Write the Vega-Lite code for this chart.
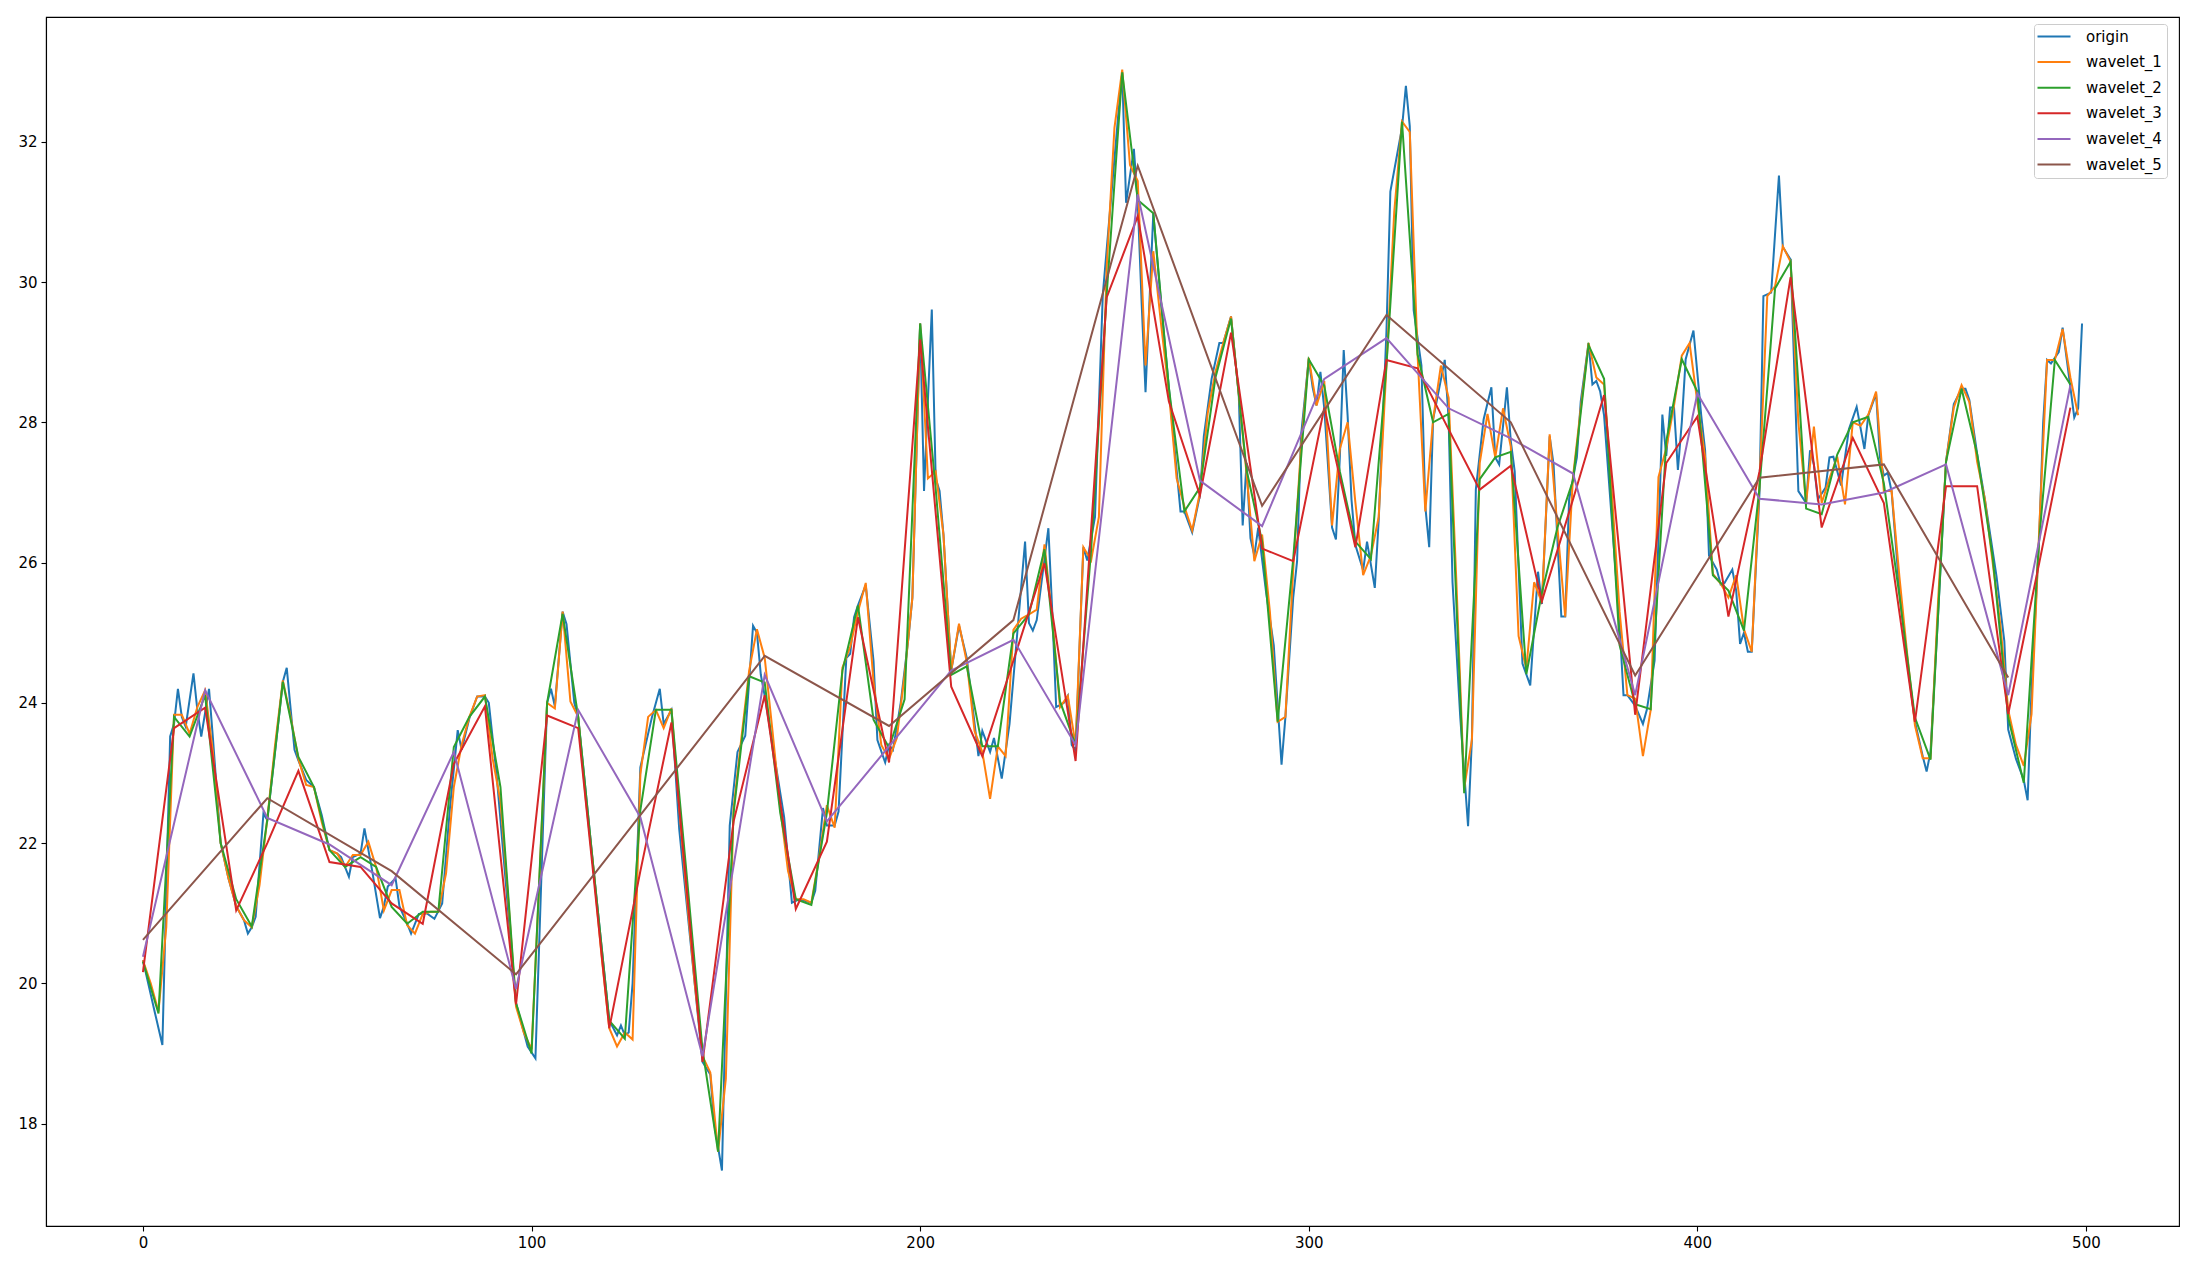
{
"$schema": "https://vega.github.io/schema/vega-lite/v6.json",
"width": 2133, "height": 1209,
"autosize": {"type": "none"},
"padding": {"left": 46, "top": 17, "right": 23, "bottom": 42},
"background": "white",
"config": {"view": {"stroke": "black", "strokeWidth": 1.1}, "font": "DejaVu Sans",
 "axis": {"domainColor": "black", "domainWidth": 1.1, "tickColor": "black", "tickWidth": 1.1, "labelColor": "black", "grid": false, "labelFontSize": 15, "tickSize": 5, "labelFont": "DejaVu Sans"}},
"data": {"values": [
{"s":"origin","x":0,"y":20.33},{"s":"origin","x":3,"y":19.6},{"s":"origin","x":5,"y":19.12},{"s":"origin","x":7,"y":23.52},{"s":"origin","x":8,"y":23.7},{"s":"origin","x":9,"y":24.2},{"s":"origin","x":10,"y":23.8},{"s":"origin","x":11,"y":23.66},{"s":"origin","x":13,"y":24.42},{"s":"origin","x":14,"y":23.9},{"s":"origin","x":15,"y":23.52},{"s":"origin","x":17,"y":24.2},{"s":"origin","x":18,"y":23.5},{"s":"origin","x":20,"y":22.0},{"s":"origin","x":22,"y":21.5},{"s":"origin","x":24,"y":21.1},{"s":"origin","x":26,"y":20.9},{"s":"origin","x":27,"y":20.71},{"s":"origin","x":28,"y":20.8},{"s":"origin","x":29,"y":20.95},{"s":"origin","x":31,"y":22.42},{"s":"origin","x":32,"y":22.33},{"s":"origin","x":34,"y":23.3},{"s":"origin","x":36,"y":24.3},{"s":"origin","x":37,"y":24.5},{"s":"origin","x":39,"y":23.33},{"s":"origin","x":40,"y":23.18},{"s":"origin","x":42,"y":22.9},{"s":"origin","x":44,"y":22.8},{"s":"origin","x":46,"y":22.4},{"s":"origin","x":48,"y":21.9},{"s":"origin","x":50,"y":21.85},{"s":"origin","x":51,"y":21.8},{"s":"origin","x":53,"y":21.52},{"s":"origin","x":54,"y":21.8},{"s":"origin","x":56,"y":21.85},{"s":"origin","x":57,"y":22.21},{"s":"origin","x":59,"y":21.6},{"s":"origin","x":61,"y":20.93},{"s":"origin","x":62,"y":21.1},{"s":"origin","x":63,"y":21.38},{"s":"origin","x":65,"y":21.5},{"s":"origin","x":66,"y":21.1},{"s":"origin","x":68,"y":20.85},{"s":"origin","x":69,"y":20.71},{"s":"origin","x":71,"y":20.99},{"s":"origin","x":73,"y":21.0},{"s":"origin","x":75,"y":20.92},{"s":"origin","x":77,"y":21.14},{"s":"origin","x":79,"y":22.5},{"s":"origin","x":81,"y":23.61},{"s":"origin","x":82,"y":23.33},{"s":"origin","x":84,"y":23.78},{"s":"origin","x":86,"y":24.09},{"s":"origin","x":88,"y":24.09},{"s":"origin","x":89,"y":24.0},{"s":"origin","x":91,"y":22.98},{"s":"origin","x":96,"y":19.72},{"s":"origin","x":99,"y":19.1},{"s":"origin","x":101,"y":18.93},{"s":"origin","x":104,"y":24.0},{"s":"origin","x":105,"y":24.2},{"s":"origin","x":106,"y":23.95},{"s":"origin","x":108,"y":25.3},{"s":"origin","x":109,"y":25.12},{"s":"origin","x":111,"y":24.0},{"s":"origin","x":112,"y":23.8},{"s":"origin","x":116,"y":21.6},{"s":"origin","x":120,"y":19.47},{"s":"origin","x":122,"y":19.26},{"s":"origin","x":123,"y":19.4},{"s":"origin","x":124,"y":19.26},{"s":"origin","x":125,"y":19.3},{"s":"origin","x":126,"y":20.0},{"s":"origin","x":128,"y":23.08},{"s":"origin","x":131,"y":23.8},{"s":"origin","x":133,"y":24.2},{"s":"origin","x":134,"y":23.7},{"s":"origin","x":136,"y":23.9},{"s":"origin","x":138,"y":22.2},{"s":"origin","x":144,"y":18.88},{"s":"origin","x":146,"y":18.7},{"s":"origin","x":147,"y":18.0},{"s":"origin","x":149,"y":17.33},{"s":"origin","x":151,"y":22.25},{"s":"origin","x":153,"y":23.3},{"s":"origin","x":155,"y":23.53},{"s":"origin","x":157,"y":25.1},{"s":"origin","x":158,"y":25.0},{"s":"origin","x":159,"y":24.4},{"s":"origin","x":160,"y":24.1},{"s":"origin","x":165,"y":22.37},{"s":"origin","x":167,"y":21.15},{"s":"origin","x":169,"y":21.2},{"s":"origin","x":172,"y":21.15},{"s":"origin","x":173,"y":21.32},{"s":"origin","x":175,"y":22.5},{"s":"origin","x":176,"y":22.25},{"s":"origin","x":178,"y":22.25},{"s":"origin","x":179,"y":22.45},{"s":"origin","x":181,"y":24.64},{"s":"origin","x":182,"y":24.7},{"s":"origin","x":183,"y":25.22},{"s":"origin","x":184,"y":25.39},{"s":"origin","x":186,"y":25.68},{"s":"origin","x":188,"y":24.6},{"s":"origin","x":189,"y":23.47},{"s":"origin","x":191,"y":23.15},{"s":"origin","x":192,"y":23.4},{"s":"origin","x":193,"y":23.33},{"s":"origin","x":195,"y":24.0},{"s":"origin","x":197,"y":24.93},{"s":"origin","x":198,"y":25.5},{"s":"origin","x":200,"y":29.41},{"s":"origin","x":201,"y":27.02},{"s":"origin","x":203,"y":29.61},{"s":"origin","x":204,"y":27.2},{"s":"origin","x":205,"y":27.02},{"s":"origin","x":206,"y":26.4},{"s":"origin","x":208,"y":24.46},{"s":"origin","x":210,"y":25.1},{"s":"origin","x":212,"y":24.64},{"s":"origin","x":215,"y":23.24},{"s":"origin","x":216,"y":23.6},{"s":"origin","x":218,"y":23.3},{"s":"origin","x":219,"y":23.5},{"s":"origin","x":221,"y":22.92},{"s":"origin","x":223,"y":23.7},{"s":"origin","x":225,"y":25.0},{"s":"origin","x":227,"y":26.3},{"s":"origin","x":228,"y":25.14},{"s":"origin","x":229,"y":25.03},{"s":"origin","x":230,"y":25.18},{"s":"origin","x":233,"y":26.49},{"s":"origin","x":234,"y":25.3},{"s":"origin","x":235,"y":23.94},{"s":"origin","x":237,"y":24.0},{"s":"origin","x":238,"y":24.1},{"s":"origin","x":239,"y":23.4},{"s":"origin","x":240,"y":23.32},{"s":"origin","x":242,"y":26.22},{"s":"origin","x":243,"y":26.03},{"s":"origin","x":245,"y":26.65},{"s":"origin","x":247,"y":29.82},{"s":"origin","x":251,"y":32.4},{"s":"origin","x":252,"y":32.99},{"s":"origin","x":253,"y":31.13},{"s":"origin","x":255,"y":31.9},{"s":"origin","x":256,"y":31.13},{"s":"origin","x":257,"y":29.7},{"s":"origin","x":258,"y":28.43},{"s":"origin","x":260,"y":30.98},{"s":"origin","x":262,"y":29.7},{"s":"origin","x":264,"y":28.5},{"s":"origin","x":267,"y":26.73},{"s":"origin","x":268,"y":26.73},{"s":"origin","x":270,"y":26.43},{"s":"origin","x":272,"y":26.96},{"s":"origin","x":273,"y":27.8},{"s":"origin","x":275,"y":28.62},{"s":"origin","x":277,"y":29.13},{"s":"origin","x":278,"y":29.13},{"s":"origin","x":280,"y":29.51},{"s":"origin","x":282,"y":28.39},{"s":"origin","x":283,"y":26.53},{"s":"origin","x":284,"y":27.42},{"s":"origin","x":285,"y":26.35},{"s":"origin","x":286,"y":26.1},{"s":"origin","x":287,"y":26.5},{"s":"origin","x":289,"y":25.59},{"s":"origin","x":291,"y":24.82},{"s":"origin","x":293,"y":23.12},{"s":"origin","x":294,"y":23.8},{"s":"origin","x":296,"y":25.5},{"s":"origin","x":297,"y":26.02},{"s":"origin","x":298,"y":27.8},{"s":"origin","x":300,"y":28.9},{"s":"origin","x":301,"y":28.5},{"s":"origin","x":302,"y":28.24},{"s":"origin","x":303,"y":28.72},{"s":"origin","x":304,"y":28.2},{"s":"origin","x":306,"y":26.5},{"s":"origin","x":307,"y":26.33},{"s":"origin","x":308,"y":27.5},{"s":"origin","x":309,"y":29.03},{"s":"origin","x":310,"y":28.1},{"s":"origin","x":311,"y":26.9},{"s":"origin","x":312,"y":26.25},{"s":"origin","x":314,"y":25.89},{"s":"origin","x":315,"y":26.3},{"s":"origin","x":317,"y":25.64},{"s":"origin","x":318,"y":26.6},{"s":"origin","x":320,"y":29.3},{"s":"origin","x":321,"y":31.29},{"s":"origin","x":324,"y":32.2},{"s":"origin","x":325,"y":32.8},{"s":"origin","x":326,"y":32.22},{"s":"origin","x":327,"y":29.6},{"s":"origin","x":329,"y":28.81},{"s":"origin","x":330,"y":26.8},{"s":"origin","x":331,"y":26.22},{"s":"origin","x":332,"y":28.04},{"s":"origin","x":335,"y":28.89},{"s":"origin","x":336,"y":28.04},{"s":"origin","x":337,"y":25.72},{"s":"origin","x":339,"y":23.79},{"s":"origin","x":341,"y":22.24},{"s":"origin","x":342,"y":23.5},{"s":"origin","x":343,"y":27.04},{"s":"origin","x":345,"y":28.04},{"s":"origin","x":347,"y":28.5},{"s":"origin","x":348,"y":27.5},{"s":"origin","x":349,"y":27.4},{"s":"origin","x":351,"y":28.5},{"s":"origin","x":352,"y":27.73},{"s":"origin","x":353,"y":27.3},{"s":"origin","x":355,"y":24.56},{"s":"origin","x":357,"y":24.25},{"s":"origin","x":359,"y":25.87},{"s":"origin","x":360,"y":25.41},{"s":"origin","x":362,"y":27.8},{"s":"origin","x":363,"y":27.4},{"s":"origin","x":365,"y":25.23},{"s":"origin","x":366,"y":25.23},{"s":"origin","x":367,"y":26.9},{"s":"origin","x":369,"y":27.5},{"s":"origin","x":370,"y":28.3},{"s":"origin","x":372,"y":29.13},{"s":"origin","x":373,"y":28.54},{"s":"origin","x":374,"y":28.59},{"s":"origin","x":375,"y":28.44},{"s":"origin","x":376,"y":28.1},{"s":"origin","x":378,"y":26.6},{"s":"origin","x":380,"y":25.1},{"s":"origin","x":381,"y":24.11},{"s":"origin","x":382,"y":24.11},{"s":"origin","x":384,"y":23.96},{"s":"origin","x":386,"y":23.7},{"s":"origin","x":387,"y":23.9},{"s":"origin","x":389,"y":24.6},{"s":"origin","x":391,"y":28.11},{"s":"origin","x":392,"y":27.52},{"s":"origin","x":393,"y":28.21},{"s":"origin","x":394,"y":28.21},{"s":"origin","x":395,"y":27.32},{"s":"origin","x":396,"y":28.0},{"s":"origin","x":397,"y":28.9},{"s":"origin","x":399,"y":29.31},{"s":"origin","x":401,"y":28.1},{"s":"origin","x":402,"y":27.6},{"s":"origin","x":403,"y":26.1},{"s":"origin","x":405,"y":25.9},{"s":"origin","x":406,"y":25.69},{"s":"origin","x":407,"y":25.71},{"s":"origin","x":409,"y":25.9},{"s":"origin","x":410,"y":25.6},{"s":"origin","x":411,"y":24.84},{"s":"origin","x":412,"y":25.0},{"s":"origin","x":413,"y":24.73},{"s":"origin","x":414,"y":24.73},{"s":"origin","x":416,"y":27.0},{"s":"origin","x":417,"y":29.8},{"s":"origin","x":419,"y":29.85},{"s":"origin","x":421,"y":31.52},{"s":"origin","x":422,"y":30.5},{"s":"origin","x":424,"y":30.32},{"s":"origin","x":426,"y":27.02},{"s":"origin","x":428,"y":26.85},{"s":"origin","x":429,"y":27.6},{"s":"origin","x":430,"y":27.4},{"s":"origin","x":431,"y":26.9},{"s":"origin","x":433,"y":27.07},{"s":"origin","x":434,"y":27.5},{"s":"origin","x":435,"y":27.51},{"s":"origin","x":437,"y":27.1},{"s":"origin","x":439,"y":27.9},{"s":"origin","x":441,"y":28.22},{"s":"origin","x":443,"y":27.62},{"s":"origin","x":444,"y":28.1},{"s":"origin","x":446,"y":28.41},{"s":"origin","x":447,"y":27.5},{"s":"origin","x":448,"y":27.24},{"s":"origin","x":449,"y":27.28},{"s":"origin","x":450,"y":27.01},{"s":"origin","x":452,"y":25.6},{"s":"origin","x":454,"y":24.6},{"s":"origin","x":456,"y":23.73},{"s":"origin","x":458,"y":23.24},{"s":"origin","x":459,"y":23.02},{"s":"origin","x":460,"y":23.3},{"s":"origin","x":462,"y":25.3},{"s":"origin","x":464,"y":27.44},{"s":"origin","x":466,"y":28.26},{"s":"origin","x":468,"y":28.48},{"s":"origin","x":469,"y":28.48},{"s":"origin","x":470,"y":28.32},{"s":"origin","x":472,"y":27.55},{"s":"origin","x":474,"y":26.9},{"s":"origin","x":477,"y":25.8},{"s":"origin","x":479,"y":24.88},{"s":"origin","x":480,"y":23.62},{"s":"origin","x":482,"y":23.2},{"s":"origin","x":484,"y":22.9},{"s":"origin","x":485,"y":22.61},{"s":"origin","x":486,"y":24.2},{"s":"origin","x":488,"y":26.4},{"s":"origin","x":489,"y":28.0},{"s":"origin","x":490,"y":28.89},{"s":"origin","x":491,"y":28.84},{"s":"origin","x":493,"y":29.0},{"s":"origin","x":494,"y":29.35},{"s":"origin","x":496,"y":28.5},{"s":"origin","x":497,"y":28.07},{"s":"origin","x":498,"y":28.2},{"s":"origin","x":499,"y":29.41},
{"s":"wavelet_1","x":0,"y":20.33},{"s":"wavelet_1","x":2,"y":20.0},{"s":"wavelet_1","x":4,"y":19.6},{"s":"wavelet_1","x":6,"y":20.8},{"s":"wavelet_1","x":8,"y":23.83},{"s":"wavelet_1","x":10,"y":23.83},{"s":"wavelet_1","x":12,"y":23.56},{"s":"wavelet_1","x":14,"y":23.94},{"s":"wavelet_1","x":16,"y":24.18},{"s":"wavelet_1","x":18,"y":23.3},{"s":"wavelet_1","x":20,"y":22.0},{"s":"wavelet_1","x":22,"y":21.5},{"s":"wavelet_1","x":24,"y":21.1},{"s":"wavelet_1","x":26,"y":20.9},{"s":"wavelet_1","x":28,"y":20.8},{"s":"wavelet_1","x":30,"y":21.4},{"s":"wavelet_1","x":32,"y":22.35},{"s":"wavelet_1","x":34,"y":23.4},{"s":"wavelet_1","x":36,"y":24.32},{"s":"wavelet_1","x":38,"y":23.8},{"s":"wavelet_1","x":40,"y":23.2},{"s":"wavelet_1","x":42,"y":22.83},{"s":"wavelet_1","x":44,"y":22.8},{"s":"wavelet_1","x":46,"y":22.3},{"s":"wavelet_1","x":48,"y":21.9},{"s":"wavelet_1","x":50,"y":21.85},{"s":"wavelet_1","x":52,"y":21.66},{"s":"wavelet_1","x":54,"y":21.83},{"s":"wavelet_1","x":56,"y":21.83},{"s":"wavelet_1","x":58,"y":22.02},{"s":"wavelet_1","x":60,"y":21.66},{"s":"wavelet_1","x":62,"y":21.04},{"s":"wavelet_1","x":64,"y":21.33},{"s":"wavelet_1","x":66,"y":21.33},{"s":"wavelet_1","x":68,"y":20.83},{"s":"wavelet_1","x":70,"y":20.71},{"s":"wavelet_1","x":72,"y":20.99},{"s":"wavelet_1","x":74,"y":21.02},{"s":"wavelet_1","x":76,"y":21.02},{"s":"wavelet_1","x":78,"y":21.57},{"s":"wavelet_1","x":80,"y":22.8},{"s":"wavelet_1","x":82,"y":23.4},{"s":"wavelet_1","x":84,"y":23.8},{"s":"wavelet_1","x":86,"y":24.09},{"s":"wavelet_1","x":88,"y":24.11},{"s":"wavelet_1","x":90,"y":23.2},{"s":"wavelet_1","x":92,"y":22.6},{"s":"wavelet_1","x":94,"y":21.2},{"s":"wavelet_1","x":96,"y":19.67},{"s":"wavelet_1","x":98,"y":19.3},{"s":"wavelet_1","x":100,"y":19.06},{"s":"wavelet_1","x":102,"y":21.45},{"s":"wavelet_1","x":104,"y":24.0},{"s":"wavelet_1","x":106,"y":23.92},{"s":"wavelet_1","x":108,"y":25.3},{"s":"wavelet_1","x":110,"y":24.02},{"s":"wavelet_1","x":112,"y":23.8},{"s":"wavelet_1","x":114,"y":22.6},{"s":"wavelet_1","x":116,"y":21.6},{"s":"wavelet_1","x":118,"y":20.4},{"s":"wavelet_1","x":120,"y":19.36},{"s":"wavelet_1","x":122,"y":19.1},{"s":"wavelet_1","x":124,"y":19.3},{"s":"wavelet_1","x":126,"y":19.2},{"s":"wavelet_1","x":128,"y":22.98},{"s":"wavelet_1","x":130,"y":23.8},{"s":"wavelet_1","x":132,"y":23.9},{"s":"wavelet_1","x":134,"y":23.64},{"s":"wavelet_1","x":136,"y":23.92},{"s":"wavelet_1","x":138,"y":22.5},{"s":"wavelet_1","x":140,"y":21.2},{"s":"wavelet_1","x":142,"y":20.0},{"s":"wavelet_1","x":144,"y":18.96},{"s":"wavelet_1","x":146,"y":18.73},{"s":"wavelet_1","x":148,"y":17.6},{"s":"wavelet_1","x":150,"y":18.64},{"s":"wavelet_1","x":152,"y":22.5},{"s":"wavelet_1","x":154,"y":23.5},{"s":"wavelet_1","x":156,"y":24.46},{"s":"wavelet_1","x":158,"y":25.05},{"s":"wavelet_1","x":160,"y":24.64},{"s":"wavelet_1","x":162,"y":23.6},{"s":"wavelet_1","x":164,"y":22.5},{"s":"wavelet_1","x":166,"y":21.6},{"s":"wavelet_1","x":168,"y":21.2},{"s":"wavelet_1","x":170,"y":21.2},{"s":"wavelet_1","x":172,"y":21.15},{"s":"wavelet_1","x":174,"y":21.8},{"s":"wavelet_1","x":176,"y":22.54},{"s":"wavelet_1","x":178,"y":22.22},{"s":"wavelet_1","x":180,"y":24.5},{"s":"wavelet_1","x":182,"y":24.8},{"s":"wavelet_1","x":184,"y":25.3},{"s":"wavelet_1","x":186,"y":25.71},{"s":"wavelet_1","x":188,"y":24.3},{"s":"wavelet_1","x":190,"y":23.4},{"s":"wavelet_1","x":192,"y":23.2},{"s":"wavelet_1","x":194,"y":23.5},{"s":"wavelet_1","x":196,"y":24.4},{"s":"wavelet_1","x":198,"y":25.5},{"s":"wavelet_1","x":200,"y":29.41},{"s":"wavelet_1","x":202,"y":27.2},{"s":"wavelet_1","x":204,"y":27.3},{"s":"wavelet_1","x":206,"y":26.4},{"s":"wavelet_1","x":208,"y":24.46},{"s":"wavelet_1","x":210,"y":25.13},{"s":"wavelet_1","x":212,"y":24.58},{"s":"wavelet_1","x":214,"y":23.6},{"s":"wavelet_1","x":216,"y":23.3},{"s":"wavelet_1","x":218,"y":22.63},{"s":"wavelet_1","x":220,"y":23.38},{"s":"wavelet_1","x":222,"y":23.24},{"s":"wavelet_1","x":224,"y":25.04},{"s":"wavelet_1","x":226,"y":25.2},{"s":"wavelet_1","x":228,"y":25.26},{"s":"wavelet_1","x":230,"y":25.33},{"s":"wavelet_1","x":232,"y":26.26},{"s":"wavelet_1","x":234,"y":25.2},{"s":"wavelet_1","x":236,"y":23.94},{"s":"wavelet_1","x":238,"y":24.1},{"s":"wavelet_1","x":240,"y":23.4},{"s":"wavelet_1","x":242,"y":26.22},{"s":"wavelet_1","x":244,"y":26.03},{"s":"wavelet_1","x":246,"y":26.65},{"s":"wavelet_1","x":248,"y":30.2},{"s":"wavelet_1","x":250,"y":32.2},{"s":"wavelet_1","x":252,"y":33.03},{"s":"wavelet_1","x":254,"y":31.67},{"s":"wavelet_1","x":256,"y":31.44},{"s":"wavelet_1","x":258,"y":28.81},{"s":"wavelet_1","x":260,"y":30.44},{"s":"wavelet_1","x":262,"y":29.4},{"s":"wavelet_1","x":264,"y":28.43},{"s":"wavelet_1","x":266,"y":27.2},{"s":"wavelet_1","x":268,"y":26.8},{"s":"wavelet_1","x":270,"y":26.46},{"s":"wavelet_1","x":272,"y":27.0},{"s":"wavelet_1","x":274,"y":28.13},{"s":"wavelet_1","x":276,"y":28.72},{"s":"wavelet_1","x":278,"y":29.13},{"s":"wavelet_1","x":280,"y":29.51},{"s":"wavelet_1","x":282,"y":28.39},{"s":"wavelet_1","x":284,"y":27.27},{"s":"wavelet_1","x":286,"y":26.02},{"s":"wavelet_1","x":288,"y":26.4},{"s":"wavelet_1","x":290,"y":25.3},{"s":"wavelet_1","x":292,"y":23.73},{"s":"wavelet_1","x":294,"y":23.8},{"s":"wavelet_1","x":296,"y":25.9},{"s":"wavelet_1","x":298,"y":27.63},{"s":"wavelet_1","x":300,"y":28.92},{"s":"wavelet_1","x":302,"y":28.24},{"s":"wavelet_1","x":304,"y":28.59},{"s":"wavelet_1","x":306,"y":26.53},{"s":"wavelet_1","x":308,"y":27.62},{"s":"wavelet_1","x":310,"y":28.0},{"s":"wavelet_1","x":312,"y":26.86},{"s":"wavelet_1","x":314,"y":25.82},{"s":"wavelet_1","x":316,"y":26.1},{"s":"wavelet_1","x":318,"y":26.65},{"s":"wavelet_1","x":320,"y":28.81},{"s":"wavelet_1","x":322,"y":31.0},{"s":"wavelet_1","x":324,"y":32.29},{"s":"wavelet_1","x":326,"y":32.14},{"s":"wavelet_1","x":328,"y":28.97},{"s":"wavelet_1","x":330,"y":26.73},{"s":"wavelet_1","x":332,"y":28.04},{"s":"wavelet_1","x":334,"y":28.81},{"s":"wavelet_1","x":336,"y":28.35},{"s":"wavelet_1","x":338,"y":25.72},{"s":"wavelet_1","x":340,"y":22.78},{"s":"wavelet_1","x":342,"y":23.48},{"s":"wavelet_1","x":344,"y":27.42},{"s":"wavelet_1","x":346,"y":28.12},{"s":"wavelet_1","x":348,"y":27.5},{"s":"wavelet_1","x":350,"y":28.2},{"s":"wavelet_1","x":352,"y":27.65},{"s":"wavelet_1","x":354,"y":24.95},{"s":"wavelet_1","x":356,"y":24.49},{"s":"wavelet_1","x":358,"y":25.72},{"s":"wavelet_1","x":360,"y":25.43},{"s":"wavelet_1","x":362,"y":27.83},{"s":"wavelet_1","x":364,"y":26.5},{"s":"wavelet_1","x":366,"y":25.23},{"s":"wavelet_1","x":368,"y":27.22},{"s":"wavelet_1","x":370,"y":28.2},{"s":"wavelet_1","x":372,"y":29.13},{"s":"wavelet_1","x":374,"y":28.64},{"s":"wavelet_1","x":376,"y":28.54},{"s":"wavelet_1","x":378,"y":27.0},{"s":"wavelet_1","x":380,"y":25.3},{"s":"wavelet_1","x":382,"y":24.11},{"s":"wavelet_1","x":384,"y":24.06},{"s":"wavelet_1","x":386,"y":23.24},{"s":"wavelet_1","x":388,"y":23.9},{"s":"wavelet_1","x":390,"y":27.22},{"s":"wavelet_1","x":392,"y":27.63},{"s":"wavelet_1","x":394,"y":28.24},{"s":"wavelet_1","x":396,"y":28.95},{"s":"wavelet_1","x":398,"y":29.13},{"s":"wavelet_1","x":400,"y":28.29},{"s":"wavelet_1","x":402,"y":27.5},{"s":"wavelet_1","x":404,"y":25.84},{"s":"wavelet_1","x":406,"y":25.7},{"s":"wavelet_1","x":408,"y":25.5},{"s":"wavelet_1","x":410,"y":25.82},{"s":"wavelet_1","x":412,"y":25.05},{"s":"wavelet_1","x":414,"y":24.73},{"s":"wavelet_1","x":416,"y":27.13},{"s":"wavelet_1","x":418,"y":29.8},{"s":"wavelet_1","x":420,"y":29.94},{"s":"wavelet_1","x":422,"y":30.51},{"s":"wavelet_1","x":424,"y":30.29},{"s":"wavelet_1","x":426,"y":28.0},{"s":"wavelet_1","x":428,"y":26.85},{"s":"wavelet_1","x":430,"y":27.94},{"s":"wavelet_1","x":432,"y":26.85},{"s":"wavelet_1","x":434,"y":27.2},{"s":"wavelet_1","x":436,"y":27.51},{"s":"wavelet_1","x":438,"y":26.83},{"s":"wavelet_1","x":440,"y":28.0},{"s":"wavelet_1","x":442,"y":27.95},{"s":"wavelet_1","x":444,"y":28.11},{"s":"wavelet_1","x":446,"y":28.44},{"s":"wavelet_1","x":448,"y":27.02},{"s":"wavelet_1","x":450,"y":27.02},{"s":"wavelet_1","x":452,"y":25.8},{"s":"wavelet_1","x":454,"y":24.7},{"s":"wavelet_1","x":456,"y":23.68},{"s":"wavelet_1","x":458,"y":23.21},{"s":"wavelet_1","x":460,"y":23.21},{"s":"wavelet_1","x":462,"y":25.5},{"s":"wavelet_1","x":464,"y":27.44},{"s":"wavelet_1","x":466,"y":28.21},{"s":"wavelet_1","x":468,"y":28.53},{"s":"wavelet_1","x":470,"y":28.29},{"s":"wavelet_1","x":472,"y":27.44},{"s":"wavelet_1","x":474,"y":26.9},{"s":"wavelet_1","x":476,"y":26.0},{"s":"wavelet_1","x":478,"y":25.1},{"s":"wavelet_1","x":480,"y":23.9},{"s":"wavelet_1","x":482,"y":23.4},{"s":"wavelet_1","x":484,"y":23.1},{"s":"wavelet_1","x":486,"y":23.84},{"s":"wavelet_1","x":488,"y":26.5},{"s":"wavelet_1","x":490,"y":28.89},{"s":"wavelet_1","x":492,"y":28.89},{"s":"wavelet_1","x":494,"y":29.33},{"s":"wavelet_1","x":496,"y":28.64},{"s":"wavelet_1","x":498,"y":28.1},
{"s":"wavelet_2","x":0,"y":20.31},{"s":"wavelet_2","x":4,"y":19.57},{"s":"wavelet_2","x":8,"y":23.8},{"s":"wavelet_2","x":12,"y":23.52},{"s":"wavelet_2","x":16,"y":24.11},{"s":"wavelet_2","x":20,"y":22.0},{"s":"wavelet_2","x":24,"y":21.2},{"s":"wavelet_2","x":28,"y":20.81},{"s":"wavelet_2","x":32,"y":22.33},{"s":"wavelet_2","x":36,"y":24.3},{"s":"wavelet_2","x":40,"y":23.23},{"s":"wavelet_2","x":44,"y":22.8},{"s":"wavelet_2","x":48,"y":21.9},{"s":"wavelet_2","x":52,"y":21.66},{"s":"wavelet_2","x":56,"y":21.8},{"s":"wavelet_2","x":60,"y":21.66},{"s":"wavelet_2","x":64,"y":21.09},{"s":"wavelet_2","x":68,"y":20.85},{"s":"wavelet_2","x":72,"y":21.02},{"s":"wavelet_2","x":76,"y":21.02},{"s":"wavelet_2","x":80,"y":23.37},{"s":"wavelet_2","x":84,"y":23.8},{"s":"wavelet_2","x":88,"y":24.09},{"s":"wavelet_2","x":92,"y":22.8},{"s":"wavelet_2","x":96,"y":19.72},{"s":"wavelet_2","x":100,"y":19.0},{"s":"wavelet_2","x":104,"y":24.0},{"s":"wavelet_2","x":108,"y":25.27},{"s":"wavelet_2","x":112,"y":23.8},{"s":"wavelet_2","x":116,"y":21.6},{"s":"wavelet_2","x":120,"y":19.47},{"s":"wavelet_2","x":124,"y":19.21},{"s":"wavelet_2","x":128,"y":22.47},{"s":"wavelet_2","x":132,"y":23.9},{"s":"wavelet_2","x":136,"y":23.9},{"s":"wavelet_2","x":140,"y":21.5},{"s":"wavelet_2","x":144,"y":19.05},{"s":"wavelet_2","x":148,"y":17.6},{"s":"wavelet_2","x":152,"y":22.43},{"s":"wavelet_2","x":156,"y":24.38},{"s":"wavelet_2","x":160,"y":24.29},{"s":"wavelet_2","x":164,"y":22.43},{"s":"wavelet_2","x":168,"y":21.2},{"s":"wavelet_2","x":172,"y":21.12},{"s":"wavelet_2","x":176,"y":22.43},{"s":"wavelet_2","x":180,"y":24.46},{"s":"wavelet_2","x":184,"y":25.39},{"s":"wavelet_2","x":188,"y":23.76},{"s":"wavelet_2","x":192,"y":23.36},{"s":"wavelet_2","x":196,"y":24.05},{"s":"wavelet_2","x":200,"y":29.41},{"s":"wavelet_2","x":204,"y":27.05},{"s":"wavelet_2","x":208,"y":24.4},{"s":"wavelet_2","x":212,"y":24.52},{"s":"wavelet_2","x":216,"y":23.38},{"s":"wavelet_2","x":220,"y":23.38},{"s":"wavelet_2","x":224,"y":24.99},{"s":"wavelet_2","x":228,"y":25.26},{"s":"wavelet_2","x":232,"y":26.19},{"s":"wavelet_2","x":236,"y":24.02},{"s":"wavelet_2","x":240,"y":23.4},{"s":"wavelet_2","x":244,"y":26.18},{"s":"wavelet_2","x":248,"y":29.82},{"s":"wavelet_2","x":252,"y":32.99},{"s":"wavelet_2","x":256,"y":31.17},{"s":"wavelet_2","x":260,"y":30.98},{"s":"wavelet_2","x":264,"y":28.5},{"s":"wavelet_2","x":268,"y":26.73},{"s":"wavelet_2","x":272,"y":27.07},{"s":"wavelet_2","x":276,"y":28.64},{"s":"wavelet_2","x":280,"y":29.48},{"s":"wavelet_2","x":284,"y":27.32},{"s":"wavelet_2","x":288,"y":26.3},{"s":"wavelet_2","x":292,"y":23.73},{"s":"wavelet_2","x":296,"y":26.05},{"s":"wavelet_2","x":300,"y":28.9},{"s":"wavelet_2","x":304,"y":28.52},{"s":"wavelet_2","x":308,"y":27.3},{"s":"wavelet_2","x":312,"y":26.3},{"s":"wavelet_2","x":316,"y":26.05},{"s":"wavelet_2","x":320,"y":28.81},{"s":"wavelet_2","x":324,"y":32.29},{"s":"wavelet_2","x":328,"y":28.97},{"s":"wavelet_2","x":332,"y":28.0},{"s":"wavelet_2","x":336,"y":28.12},{"s":"wavelet_2","x":340,"y":22.71},{"s":"wavelet_2","x":344,"y":27.19},{"s":"wavelet_2","x":348,"y":27.5},{"s":"wavelet_2","x":352,"y":27.58},{"s":"wavelet_2","x":356,"y":24.41},{"s":"wavelet_2","x":360,"y":25.57},{"s":"wavelet_2","x":364,"y":26.5},{"s":"wavelet_2","x":368,"y":27.17},{"s":"wavelet_2","x":372,"y":29.1},{"s":"wavelet_2","x":376,"y":28.62},{"s":"wavelet_2","x":380,"y":24.82},{"s":"wavelet_2","x":384,"y":23.98},{"s":"wavelet_2","x":388,"y":23.91},{"s":"wavelet_2","x":392,"y":27.73},{"s":"wavelet_2","x":396,"y":28.9},{"s":"wavelet_2","x":400,"y":28.44},{"s":"wavelet_2","x":404,"y":25.82},{"s":"wavelet_2","x":408,"y":25.6},{"s":"wavelet_2","x":412,"y":25.03},{"s":"wavelet_2","x":416,"y":27.07},{"s":"wavelet_2","x":420,"y":29.91},{"s":"wavelet_2","x":424,"y":30.29},{"s":"wavelet_2","x":428,"y":26.77},{"s":"wavelet_2","x":432,"y":26.69},{"s":"wavelet_2","x":436,"y":27.54},{"s":"wavelet_2","x":440,"y":28.0},{"s":"wavelet_2","x":444,"y":28.08},{"s":"wavelet_2","x":448,"y":27.13},{"s":"wavelet_2","x":452,"y":25.53},{"s":"wavelet_2","x":456,"y":23.79},{"s":"wavelet_2","x":460,"y":23.19},{"s":"wavelet_2","x":464,"y":27.44},{"s":"wavelet_2","x":468,"y":28.48},{"s":"wavelet_2","x":472,"y":27.55},{"s":"wavelet_2","x":476,"y":26.08},{"s":"wavelet_2","x":480,"y":23.79},{"s":"wavelet_2","x":484,"y":22.86},{"s":"wavelet_2","x":488,"y":26.35},{"s":"wavelet_2","x":492,"y":28.89},{"s":"wavelet_2","x":496,"y":28.54},
{"s":"wavelet_3","x":0,"y":20.16},{"s":"wavelet_3","x":8,"y":23.64},{"s":"wavelet_3","x":16,"y":23.93},{"s":"wavelet_3","x":24,"y":21.04},{"s":"wavelet_3","x":32,"y":22.0},{"s":"wavelet_3","x":40,"y":23.03},{"s":"wavelet_3","x":48,"y":21.73},{"s":"wavelet_3","x":56,"y":21.66},{"s":"wavelet_3","x":64,"y":21.14},{"s":"wavelet_3","x":72,"y":20.85},{"s":"wavelet_3","x":80,"y":23.13},{"s":"wavelet_3","x":88,"y":23.95},{"s":"wavelet_3","x":96,"y":19.7},{"s":"wavelet_3","x":104,"y":23.82},{"s":"wavelet_3","x":112,"y":23.64},{"s":"wavelet_3","x":120,"y":19.36},{"s":"wavelet_3","x":128,"y":21.6},{"s":"wavelet_3","x":136,"y":23.72},{"s":"wavelet_3","x":144,"y":18.88},{"s":"wavelet_3","x":152,"y":22.31},{"s":"wavelet_3","x":160,"y":24.11},{"s":"wavelet_3","x":168,"y":21.06},{"s":"wavelet_3","x":176,"y":22.02},{"s":"wavelet_3","x":184,"y":25.22},{"s":"wavelet_3","x":192,"y":23.15},{"s":"wavelet_3","x":200,"y":29.18},{"s":"wavelet_3","x":208,"y":24.23},{"s":"wavelet_3","x":216,"y":23.24},{"s":"wavelet_3","x":224,"y":24.6},{"s":"wavelet_3","x":232,"y":25.99},{"s":"wavelet_3","x":240,"y":23.17},{"s":"wavelet_3","x":248,"y":29.78},{"s":"wavelet_3","x":256,"y":30.94},{"s":"wavelet_3","x":264,"y":28.3},{"s":"wavelet_3","x":272,"y":26.96},{"s":"wavelet_3","x":280,"y":29.28},{"s":"wavelet_3","x":288,"y":26.2},{"s":"wavelet_3","x":296,"y":26.02},{"s":"wavelet_3","x":304,"y":28.21},{"s":"wavelet_3","x":312,"y":26.22},{"s":"wavelet_3","x":320,"y":28.89},{"s":"wavelet_3","x":328,"y":28.77},{"s":"wavelet_3","x":336,"y":27.9},{"s":"wavelet_3","x":344,"y":27.04},{"s":"wavelet_3","x":352,"y":27.38},{"s":"wavelet_3","x":360,"y":25.45},{"s":"wavelet_3","x":368,"y":26.9},{"s":"wavelet_3","x":376,"y":28.39},{"s":"wavelet_3","x":384,"y":23.83},{"s":"wavelet_3","x":392,"y":27.42},{"s":"wavelet_3","x":400,"y":28.08},{"s":"wavelet_3","x":408,"y":25.23},{"s":"wavelet_3","x":416,"y":27.3},{"s":"wavelet_3","x":424,"y":30.07},{"s":"wavelet_3","x":432,"y":26.5},{"s":"wavelet_3","x":440,"y":27.78},{"s":"wavelet_3","x":448,"y":26.85},{"s":"wavelet_3","x":456,"y":23.73},{"s":"wavelet_3","x":464,"y":27.09},{"s":"wavelet_3","x":472,"y":27.09},{"s":"wavelet_3","x":480,"y":23.84},{"s":"wavelet_3","x":488,"y":26.0},{"s":"wavelet_3","x":496,"y":28.21},
{"s":"wavelet_4","x":0,"y":20.38},{"s":"wavelet_4","x":16,"y":24.18},{"s":"wavelet_4","x":32,"y":22.36},{"s":"wavelet_4","x":48,"y":21.98},{"s":"wavelet_4","x":64,"y":21.4},{"s":"wavelet_4","x":80,"y":23.3},{"s":"wavelet_4","x":96,"y":19.92},{"s":"wavelet_4","x":112,"y":23.9},{"s":"wavelet_4","x":128,"y":22.37},{"s":"wavelet_4","x":144,"y":18.96},{"s":"wavelet_4","x":160,"y":24.4},{"s":"wavelet_4","x":176,"y":22.31},{"s":"wavelet_4","x":192,"y":23.38},{"s":"wavelet_4","x":208,"y":24.46},{"s":"wavelet_4","x":224,"y":24.9},{"s":"wavelet_4","x":240,"y":23.4},{"s":"wavelet_4","x":256,"y":31.25},{"s":"wavelet_4","x":272,"y":27.17},{"s":"wavelet_4","x":288,"y":26.52},{"s":"wavelet_4","x":304,"y":28.62},{"s":"wavelet_4","x":320,"y":29.2},{"s":"wavelet_4","x":336,"y":28.2},{"s":"wavelet_4","x":352,"y":27.77},{"s":"wavelet_4","x":368,"y":27.27},{"s":"wavelet_4","x":384,"y":24.11},{"s":"wavelet_4","x":400,"y":28.41},{"s":"wavelet_4","x":416,"y":26.91},{"s":"wavelet_4","x":432,"y":26.83},{"s":"wavelet_4","x":448,"y":27.0},{"s":"wavelet_4","x":464,"y":27.4},{"s":"wavelet_4","x":480,"y":24.11},{"s":"wavelet_4","x":496,"y":28.53},
{"s":"wavelet_5","x":0,"y":20.62},{"s":"wavelet_5","x":32,"y":22.64},{"s":"wavelet_5","x":64,"y":21.6},{"s":"wavelet_5","x":96,"y":20.13},{"s":"wavelet_5","x":128,"y":22.4},{"s":"wavelet_5","x":160,"y":24.67},{"s":"wavelet_5","x":192,"y":23.67},{"s":"wavelet_5","x":224,"y":25.18},{"s":"wavelet_5","x":256,"y":31.66},{"s":"wavelet_5","x":288,"y":26.81},{"s":"wavelet_5","x":320,"y":29.53},{"s":"wavelet_5","x":352,"y":28.0},{"s":"wavelet_5","x":384,"y":24.39},{"s":"wavelet_5","x":416,"y":27.21},{"s":"wavelet_5","x":448,"y":27.4},{"s":"wavelet_5","x":480,"y":24.36}
]},
"mark": {"type": "line", "strokeWidth": 2, "clip": true},
"encoding": {
 "x": {"field": "x", "type": "quantitative", "scale": {"domain": [-24.95, 523.95], "nice": false, "zero": false}, "axis": {"values": [0,100,200,300,400,500], "title": null, "format": "d", "labelPadding": 4}},
 "y": {"field": "y", "type": "quantitative", "scale": {"domain": [16.54, 33.78], "nice": false, "zero": false}, "axis": {"values": [18,20,22,24,26,28,30,32], "title": null, "format": "d", "labelPadding": 4}},
 "color": {"field": "s", "type": "nominal",
  "scale": {"domain": ["origin","wavelet_1","wavelet_2","wavelet_3","wavelet_4","wavelet_5"], "range": ["#1f77b4","#ff7f0e","#2ca02c","#d62728","#9467bd","#8c564b"]},
  "legend": {"title": null, "orient": "none", "legendX": 1988, "legendY": 7, "symbolType": "M-3,0H3", "symbolSize": 121, "symbolOffset": 7.5, "symbolStrokeWidth": 2, "labelFontSize": 15, "labelFont": "DejaVu Sans", "labelColor": "black", "labelOffset": 24.5, "rowPadding": 9.6, "padding": 5, "strokeColor": "#cccccc", "fillColor": "rgba(255,255,255,0.8)", "cornerRadius": 3}}
}
}
